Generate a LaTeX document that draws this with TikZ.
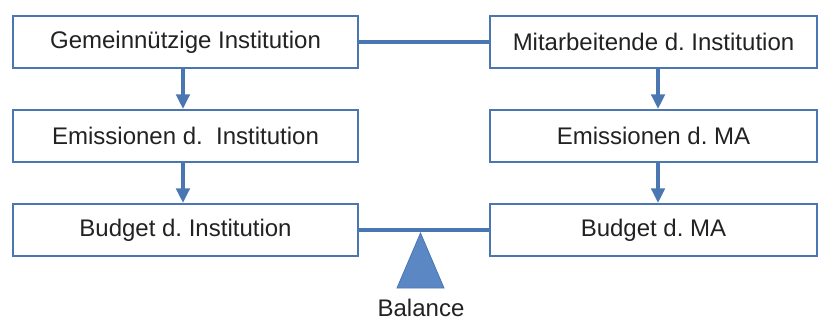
\documentclass[tikz,border=0pt]{standalone}
\usepackage{fontspec}
\setmainfont{Liberation Sans}
\usetikzlibrary{arrows.meta}
\definecolor{frameblue}{HTML}{4A76B2}
\definecolor{scaleblue}{HTML}{5B88C4}
\definecolor{inkgray}{HTML}{222222}
\frenchspacing

\begin{document}
\begin{tikzpicture}[x=0.75pt, y=-0.75pt,
	box/.style={draw=frameblue, line width=1.5pt, fill=white, minimum height=39pt, inner sep=0pt, text=inkgray, font=\fontsize{18}{21}\selectfont},
	lbox/.style={box, minimum width=258.75pt},
	rbox/.style={box, minimum width=245.25pt},
	flow/.style={draw=frameblue, line width=2.8pt, -{Triangle[length=11pt, width=10pt]}},
	link/.style={draw=frameblue, line width=2.6pt}]

	\useasboundingbox (0, 0) rectangle (822, 322);

	% left column
	\node[lbox] (inst)    at (185.5, 42)  {Gemeinnützige Institution};
	\node[lbox] (eminst)  at (185.5, 136) {Emissionen d.\ \ Institution};
	\node[lbox] (budinst) at (185.5, 230) {Budget d. Institution};

	% right column
	\node[rbox] (ma)    at (653.5, 42)  {Mitarbeitende d. Institution};
	\node[rbox] (emma)  at (653.5, 136) {Emissionen d. MA};
	\node[rbox] (budma) at (653.5, 230) {Budget d. MA};

	\draw[flow] ([xshift=-1.9pt]inst.south) -- ([xshift=-1.9pt]eminst.north);
	\draw[flow] ([xshift=-1.9pt]eminst.south) -- ([xshift=-1.9pt]budinst.north);
	\draw[flow] ([xshift=3.4pt]ma.south) -- ([xshift=3.4pt]emma.north);
	\draw[flow] ([xshift=3.4pt]emma.south) -- ([xshift=3.4pt]budma.north);

	\draw[link] (inst) -- (ma);

	% balance
	\draw[link, line width=3.2pt] (budinst) -- (budma);
	\coordinate (tip) at (420.5, 233);
	\fill[scaleblue, draw=frameblue, line width=0.6pt] (tip) -- (444, 288) -- (397, 288) -- cycle;
	\node[text=inkgray, font=\fontsize{18}{21}\selectfont] (bal) at (421, 308) {Balance};

\end{tikzpicture}
\end{document}
